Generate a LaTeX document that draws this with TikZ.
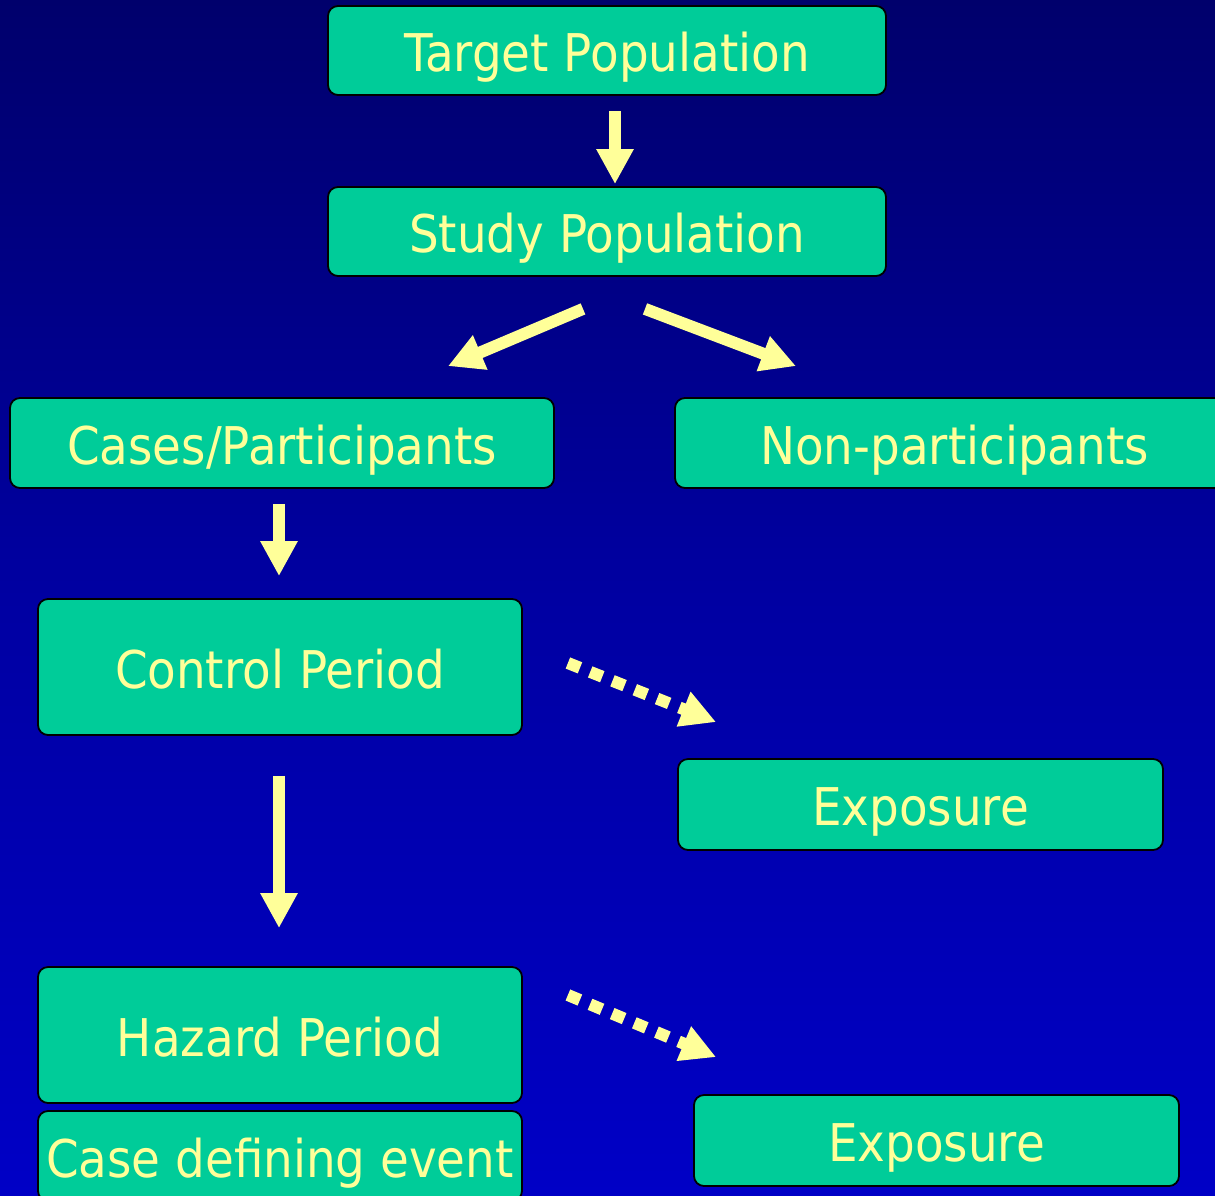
\documentclass[tikz,border=0pt]{standalone}
\usepackage{fontspec}
\setmainfont{DejaVu Sans}[FakeStretch=0.9]
\usetikzlibrary{arrows.meta,calc}

% palette
\definecolor{boxfill}{RGB}{0,204,153}
\definecolor{labeltext}{RGB}{255,255,153}
\definecolor{arrowcol}{RGB}{255,255,153}
\definecolor{bgA}{RGB}{0,0,38}
\definecolor{bgB}{RGB}{0,0,108}
\definecolor{bgC}{RGB}{0,0,162}
\definecolor{bgD}{RGB}{0,0,198}
\definecolor{bgE}{RGB}{0,0,212}

% night-blue backdrop, darkest at the top
\pgfdeclareverticalshading{bgshade}{100bp}{%
  color(0bp)=(bgE); color(25bp)=(bgD); color(50bp)=(bgC);
  color(75bp)=(bgB); color(100bp)=(bgA)}

\tikzset{
  box/.style={draw=black, line width=1.8pt, fill=boxfill,
    rounded corners=10pt, text=labeltext, inner sep=0pt,
    text height=42pt, text depth=0pt,
    font=\fontsize{52pt}{60pt}\selectfont},
  arr/.style={draw=arrowcol, line width=12pt,
    -{Triangle[width=35pt,length=35pt]}},
  dotarr/.style={arr, dash pattern=on 13pt off 11pt}
}

\begin{document}
\begin{tikzpicture}[x=1pt,y=-1pt]
  \useasboundingbox (0,0) rectangle (1215,1195);
  \fill[shading=bgshade] (0,0) rectangle (1215,1195);

  % boxes
  \node[box, minimum width=558pt, minimum height=89pt] (tp)   at (607,50.5)   {Target Population};
  \node[box, minimum width=558pt, minimum height=89pt] (sp)   at (607,231.5)  {Study Population};
  \node[box, minimum width=544pt, minimum height=90pt] (cp)   at (282,443)    {Cases/Participants};
  \node[box, minimum width=559pt, minimum height=90pt] (np)   at (954.5,443)  {Non-participants};
  \node[box, minimum width=484pt, minimum height=136pt] (ctl) at (280,667)    {Control Period};
  \node[box, minimum width=485pt, minimum height=91pt] (exa)  at (920.5,804.5) {Exposure};
  \node[box, minimum width=484pt, minimum height=136pt] (haz) at (280,1035)   {Hazard Period};
  \node[box, minimum width=484pt, minimum height=90pt] (cde)  at (280,1156)   {Case defining event};
  \node[box, minimum width=485pt, minimum height=91pt] (exb)  at (936.5,1140.5) {Exposure};

  % solid arrows
  \draw[arr] ($(tp.south)+(8,15)$) -- ($(sp.north)+(8,-2)$);
  \draw[arr] ($(sp.south)+(-24,32)$) -- ($(cp.north)+(166,-31)$);
  \draw[arr] ($(sp.south)+(38,32)$) -- ($(np.north)+(-158.5,-31)$);
  \draw[arr] ($(cp.south)+(-3,15)$) -- ($(ctl.north)+(-1,-22)$);
  \draw[arr] ($(ctl.south)+(-1,40)$) -- ($(haz.north)+(-1,-38)$);

  % dotted arrows towards the exposures
  \draw[dotarr] ($(ctl.east)+(45,-4)$) -- ($(exa.north west)+(39,-36)$);
  \draw[dotarr] ($(haz.east)+(45,-40)$) -- ($(exb.north west)+(23,-37)$);
\end{tikzpicture}
\end{document}
